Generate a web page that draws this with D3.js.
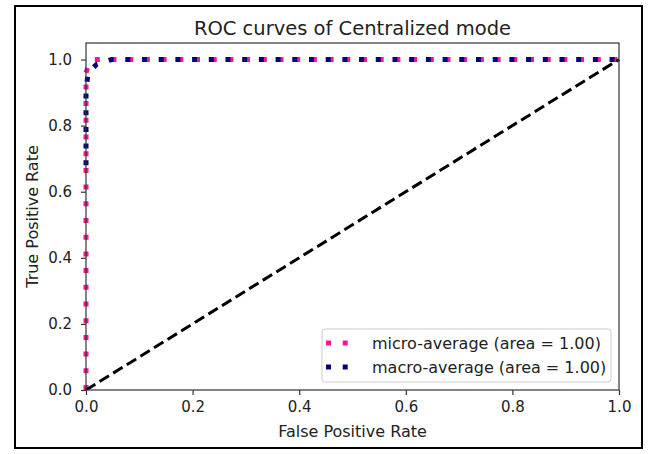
<!DOCTYPE html>
<html>
<head>
<meta charset="utf-8">
<script src="https://cdn.jsdelivr.net/npm/d3@7"></script>
<style>
  body { margin: 0; background: #fff; }
  svg { font-family: "DejaVu Sans", sans-serif; }
</style>
</head>
<body>
<svg id="chart"></svg>
<script>
// ROC curve points
const microFpr = [0, 0, 0.005, 0.015, 1];
const microTpr = [0, 0.96, 0.985, 1, 1];
const macroFpr = [0, 0, 0.003, 0.01, 0.02, 0.048, 1];
const macroTpr = [0.68, 0.9, 0.95, 0.97, 0.985, 1, 1];
const chanceFpr = [0, 1];
const chanceTpr = [0, 1];
const tickValues = [0, 0.2, 0.4, 0.6, 0.8, 1.0];
const seriesNames = ['micro-average (area = 1.00)', 'macro-average (area = 1.00)'];
const seriesColors = ['deeppink', 'navy'];

const width = 653, height = 454;
const margin = { top: 43, right: 34, bottom: 64, left: 86 };
const innerW = 619 - margin.left;
const innerH = 390 - margin.top;

const svg = d3.select('#chart')
    .attr('width', width)
    .attr('height', height);

// outer frame of the screenshot
svg.append('rect')
    .attr('x', 15).attr('y', 6)
    .attr('width', 627).attr('height', 442)
    .attr('fill', 'none')
    .attr('stroke', '#000')
    .attr('stroke-width', 2);

const chart = svg.append('g')
    .attr('transform', `translate(${margin.left}, ${margin.top})`);

const x = d3.scaleLinear().domain([0, 1]).range([0, innerW]);
const y = d3.scaleLinear().domain([0, 1.05]).range([innerH, 0]);

const line = d3.line()
    .x(d => x(d[0]))
    .y(d => y(d[1]));

chart.append('defs').append('clipPath')
    .attr('id', 'clip')
    .append('rect')
    .attr('x', -3).attr('y', -3)
    .attr('width', innerW + 6).attr('height', innerH + 3);

const plot = chart.append('g').attr('clip-path', 'url(#clip)');

const series = [
    { fpr: microFpr, tpr: microTpr },
    { fpr: macroFpr, tpr: macroTpr },
];

series.forEach((s, i) => {
    plot.append('path')
        .datum(s.fpr.map((v, j) => [v, s.tpr[j]]))
        .attr('fill', 'none')
        .attr('stroke', seriesColors[i])
        .attr('stroke-width', 5)
        .attr('stroke-dasharray', '5,11.7')
        .attr('d', line);
});

plot.append('path')
    .datum(chanceFpr.map((v, j) => [v, chanceTpr[j]]))
    .attr('fill', 'none')
    .attr('stroke', '#000')
    .attr('stroke-width', 3)
    .attr('stroke-dasharray', '11,5')
    .attr('d', line);

// spines
chart.append('rect')
    .attr('width', innerW).attr('height', innerH)
    .attr('fill', 'none')
    .attr('stroke', '#333')
    .attr('stroke-width', 1.2);

const fmt = d3.format('.1f');
const xAxis = chart.append('g')
    .attr('transform', `translate(0, ${innerH})`)
    .call(d3.axisBottom(x).tickValues(tickValues).tickFormat(fmt).tickSize(5).tickPadding(6).tickSizeOuter(0));
const yAxis = chart.append('g')
    .call(d3.axisLeft(y).tickValues(tickValues).tickFormat(fmt).tickSize(5).tickPadding(9).tickSizeOuter(0));

[xAxis, yAxis].forEach(g => {
    g.select('.domain').remove();
    g.selectAll('line').attr('stroke', '#333').attr('stroke-width', 1.2);
    g.selectAll('text')
        .attr('font-family', '"DejaVu Sans", sans-serif')
        .attr('font-size', 15)
        .attr('fill', '#222');
});

svg.append('text')
    .attr('x', margin.left + innerW / 2)
    .attr('y', 35)
    .attr('text-anchor', 'middle')
    .attr('font-size', 19.5)
    .attr('fill', '#222')
    .text('ROC curves of Centralized mode');

svg.append('text')
    .attr('x', margin.left + innerW / 2)
    .attr('y', 437)
    .attr('text-anchor', 'middle')
    .attr('font-size', 16)
    .attr('fill', '#222')
    .text('False Positive Rate');

svg.append('text')
    .attr('transform', `translate(38, ${margin.top + innerH / 2}) rotate(-90)`)
    .attr('text-anchor', 'middle')
    .attr('font-size', 16)
    .attr('fill', '#222')
    .text('True Positive Rate');

// legend
const legend = svg.append('g').attr('transform', 'translate(322, 329)');
legend.append('rect')
    .attr('width', 289).attr('height', 53)
    .attr('rx', 3)
    .attr('fill', '#fff')
    .attr('fill-opacity', 0.8)
    .attr('stroke', '#ccc');

seriesNames.forEach((name, i) => {
    const ly = 14 + i * 24;
    legend.append('line')
        .attr('x1', 4).attr('x2', 31)
        .attr('y1', ly).attr('y2', ly)
        .attr('stroke', seriesColors[i])
        .attr('stroke-width', 5)
        .attr('stroke-dasharray', '5,11.7');
    legend.append('text')
        .attr('x', 50).attr('y', ly)
        .attr('dy', '0.35em')
        .attr('font-size', 16)
        .attr('fill', '#222')
        .text(name);
});
</script>
</body>
</html>
